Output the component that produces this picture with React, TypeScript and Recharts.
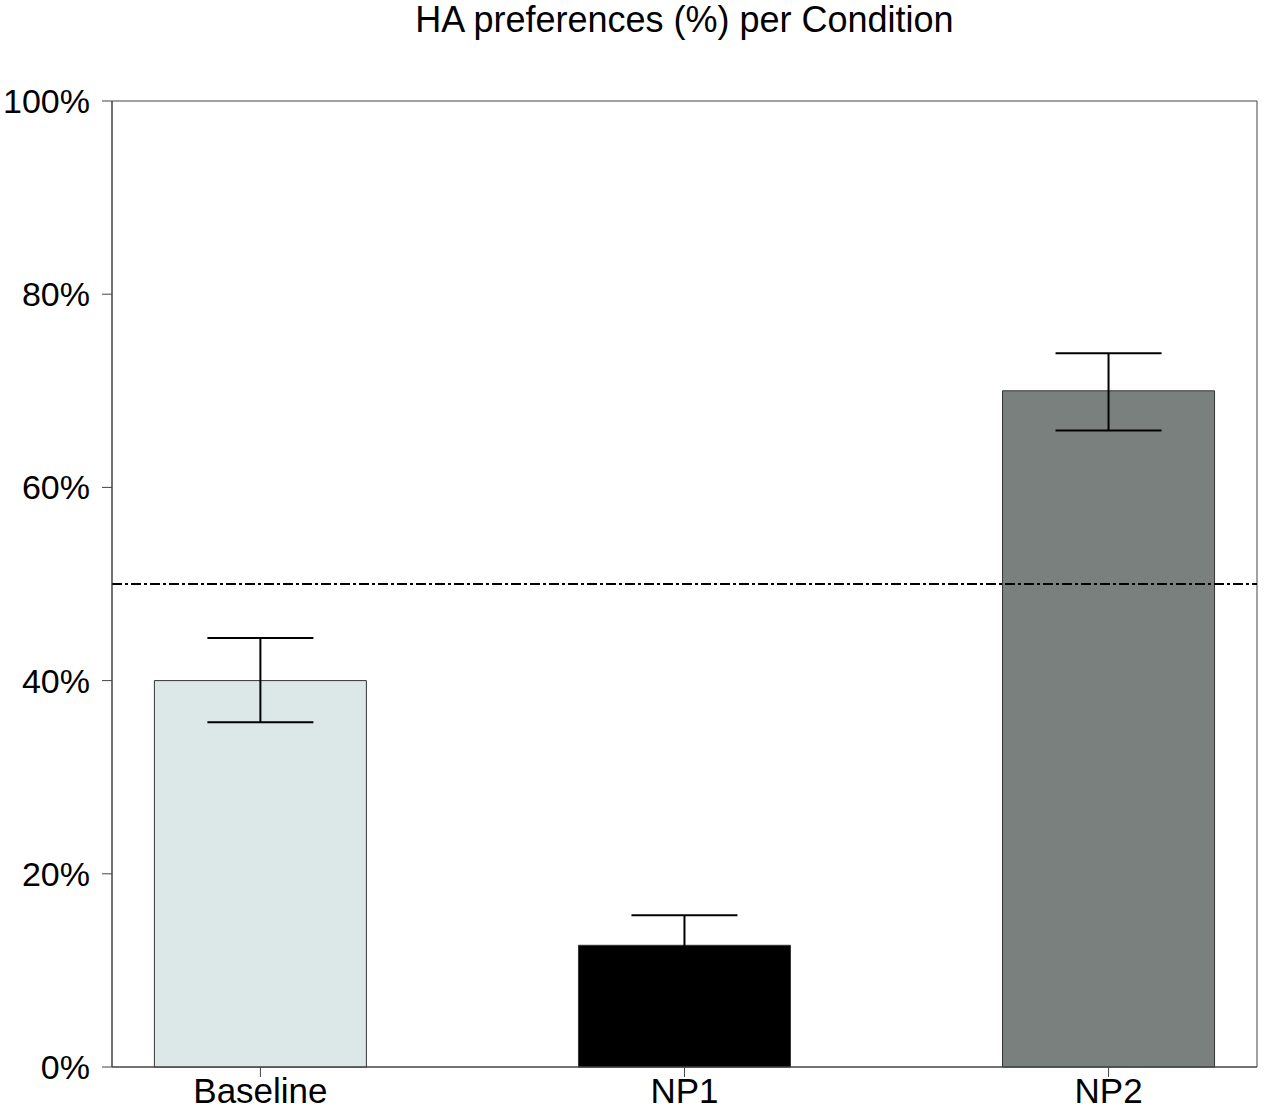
import * as React from "react";
import {
  BarChart,
  Bar,
  Cell,
  XAxis,
  YAxis,
  ErrorBar,
  ReferenceLine,
  ReferenceArea,
} from "recharts";

// HA preference share per listening condition, with SE whiskers
const conditions = ["Baseline", "NP1", "NP2"];
const preferences = [40, 12.6, 70];
const errLow = [4.3, 3.1, 4.1];
const errHigh = [4.4, 3.1, 3.9];
const barColors = ["#dce8e8", "#000000", "#7a807e"];
const yTicks = [0, 20, 40, 60, 80, 100];
const chanceLevel = 50;
const xDomain: [number, number] = [-0.35, 2.35];

const data = conditions.map((name, i) => ({
  x: i,
  name,
  value: preferences[i],
  err: [errLow[i], errHigh[i]],
}));

const font = '"Liberation Sans", Arial, sans-serif';
const axisColor = "#444";

export default function App() {
  return (
    <div
      style={{
        position: "absolute",
        left: 0,
        top: 0,
        width: 1267,
        height: 1109,
        background: "#fff",
        fontFamily: font,
      }}
    >
      <div
        style={{
          position: "absolute",
          left: 112,
          width: 1145,
          top: 0,
          lineHeight: "40px",
          textAlign: "center",
          fontSize: 36,
          color: "#000",
        }}
      >
        HA preferences (%) per Condition
      </div>
      <BarChart
        width={1267}
        height={1109}
        data={data}
        margin={{ top: 101, right: 10, left: 0, bottom: 0 }}
      >
        <XAxis
          type="number"
          dataKey="x"
          domain={xDomain}
          allowDataOverflow
          ticks={[0, 1, 2]}
          tickFormatter={(v: number) => conditions[v] ?? ""}
          height={42}
          tickSize={10}
          tickMargin={1}
          stroke={axisColor}
          tick={{ fill: "#000", fontSize: 35, fontFamily: font }}
        />
        <YAxis
          type="number"
          domain={[0, 100]}
          ticks={yTicks}
          tickFormatter={(v: number) => `${v}%`}
          width={112}
          tickSize={10}
          tickMargin={12}
          stroke={axisColor}
          tick={{ fill: "#000", fontSize: 34, fontFamily: font }}
        />
        <ReferenceArea
          x1={xDomain[0]}
          x2={xDomain[1]}
          y1={0}
          y2={100}
          fill="none"
          stroke={axisColor}
          strokeWidth={1}
        />
        <ReferenceLine
          y={chanceLevel}
          stroke="#000"
          strokeWidth={2}
          strokeDasharray="10 3 3 3"
        />
        <Bar
          dataKey="value"
          barSize={212}
          stroke="#333"
          strokeWidth={1}
          isAnimationActive={false}
        >
          {data.map((d, i) => (
            <Cell key={d.name} fill={barColors[i]} />
          ))}
          <ErrorBar
            dataKey="err"
            width={53}
            stroke="#000"
            strokeWidth={2}
            direction="y"
            isAnimationActive={false}
          />
        </Bar>
      </BarChart>
    </div>
  );
}
